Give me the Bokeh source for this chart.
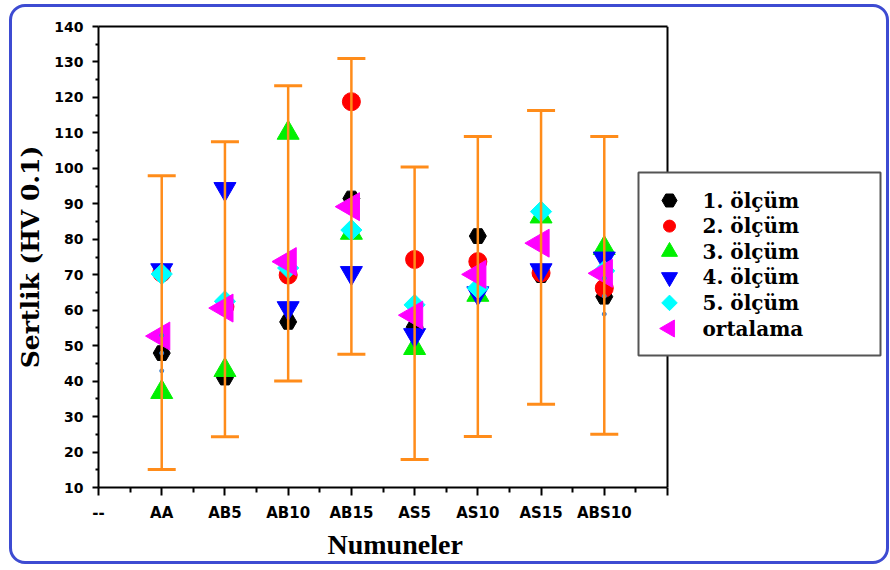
import math
from bokeh.plotting import figure
from bokeh.models import (ColumnDataSource, Range1d, FixedTicker, Whisker, TeeHead,
                          LinearAxis, Title, InlineStyleSheet)
from bokeh.core.properties import value
from bokeh.embed import file_html
from bokeh.resources import INLINE

# ---------------- data ----------------
categories = ["AA", "AB5", "AB10", "AB15", "AS5", "AS10", "AS15", "ABS10"]
olcum1 = [47.9, 41.0, 56.7, 91.5, 55.2, 80.9, 69.9, 63.8]
olcum2 = [70.5, 61.0, 69.9, 118.8, 74.3, 73.7, 70.5, 66.2]
olcum3 = [36.9, 43.1, 110.0, 81.8, 49.3, 64.3, 86.4, 77.5]
olcum4 = [71.3, 94.2, 60.6, 70.5, 53.0, 64.8, 71.3, 74.6]
olcum5 = [70.2, 62.5, 71.9, 82.6, 61.5, 66.2, 87.8, 71.1]
ortalama = [52.7, 60.6, 73.7, 89.2, 58.6, 70.1, 78.9, 70.4]
err_upper = [97.9, 107.5, 123.3, 131.0, 100.4, 109.0, 116.3, 109.0]
err_lower = [15.1, 24.3, 40.0, 47.6, 17.9, 24.4, 33.5, 25.0]

small_cats = ["AA", "ABS10"]
small_upper = [52.9, 69.0]
small_lower = [42.9, 58.9]

series_names = ["1. ölçüm", "2. ölçüm", "3. ölçüm", "4. ölçüm", "5. ölçüm", "ortalama"]
y_ticks = list(range(10, 141, 10))
Y0, Y1 = 10, 140

# ---------------- layout ----------------
W, H = 882, 562
LEFT, TOP, BOTTOM = 98, 26, 75
plot_px = 569                      # width of the boxed plotting area
frame_px = W - LEFT                # frame extends under the legend
frame_h = H - TOP - BOTTOM
xpos = [i + 1 for i in range(len(categories))]
n_slots = len(categories) + 1
x_end = n_slots * frame_px / plot_px


def dx(px):  # canvas pixel -> data x (for legend placement)
    return (px - LEFT) * n_slots / plot_px


def dy(py):  # canvas pixel -> data y (for legend placement)
    return Y0 + (H - BOTTOM - py) * (Y1 - Y0) / frame_h


p = figure(width=W, height=H, output_backend="svg", toolbar_location=None,
           x_range=Range1d(0, x_end), y_range=Range1d(Y0, Y1),
           min_border_left=LEFT, min_border_right=0, min_border_top=TOP,
           min_border_bottom=BOTTOM)
p.background_fill_color = "white"
p.border_fill_color = "white"
p.grid.visible = False
p.outline_line_color = None
p.stylesheets = [InlineStyleSheet(css="""
:host::after {
  content: "";
  position: absolute;
  left: 9px; top: 4px; right: -7px; bottom: -2px;
  border: 3px solid #3d4bd2;
  border-radius: 16px;
  pointer-events: none;
  z-index: 50;
}
""")]

# axes
xa = p.xaxis[0]
xa.bounds = (0, n_slots)
xa.ticker = FixedTicker(ticks=list(range(0, n_slots + 1)),
                        minor_ticks=[i + 0.5 for i in range(0, n_slots)])
overrides = {0: "--"}
for i, c in enumerate(categories):
    overrides[i + 1] = c
overrides[n_slots] = ""
xa.major_label_overrides = overrides

ya = p.yaxis[0]
ya.ticker = FixedTicker(ticks=y_ticks, minor_ticks=[t + 5 for t in y_ticks[:-1]])
ya.axis_label = "Sertlik (HV 0.1)"

for ax in (xa, ya):
    ax.axis_line_color = "black"
    ax.axis_line_width = 2
    ax.major_tick_line_color = "black"
    ax.major_tick_line_width = 2
    ax.minor_tick_line_color = "black"
    ax.minor_tick_line_width = 2
    ax.major_tick_in = 0
    ax.minor_tick_in = 0
    ax.major_label_text_font = "DejaVu Sans"
    ax.major_label_text_font_style = "bold"
    ax.major_label_text_color = "black"

xa.major_label_text_font_size = "15px"
ya.major_label_text_font_size = "14px"
ya.axis_label_text_font = "DejaVu Serif"
ya.axis_label_text_font_style = "bold"
ya.axis_label_text_font_size = "25px"
ya.axis_label_text_color = "black"

xa.major_tick_out = 8
xa.minor_tick_out = 5
xa.major_label_standoff = 8
ya.major_tick_out = 6
ya.minor_tick_out = 3
ya.major_label_standoff = 9
ya.axis_label_standoff = 6

# x axis title, centred under the boxed area
xt = Title(text="Numuneler", align="left", offset=229, standoff=4,
           text_font="Liberation Serif", text_font_style="bold",
           text_font_size="28px", text_color="black")
p.add_layout(xt, "below")

# top edge of the box
top_axis = LinearAxis(bounds=(0, n_slots), ticker=FixedTicker(ticks=[]),
                      axis_line_color="black", axis_line_width=2,
                      major_tick_out=0, major_tick_in=0,
                      minor_tick_out=0, minor_tick_in=0)
p.add_layout(top_axis, "above")

# right edge of the box
p.segment(x0=[n_slots], y0=[Y0], x1=[n_slots], y1=[Y1], line_color="black",
          line_width=2)

# ---------------- markers ----------------
styles = [
    # values, marker, size, colour, angle, legend size
    (olcum1, "hex", 17, "#000000", 0.0, 15),
    (olcum2, "circle", 18, "#ff0000", 0.0, 12),
    (olcum3, "triangle", 22, "#00f000", 0.0, 16),
    (olcum4, "inverted_triangle", 22, "#0000ff", 0.0, 16),
    (olcum5, "square", 15, "#00ffff", math.pi / 4, 11),
    (ortalama, "triangle", 28, "#ff00ff", math.pi / 2, 17),
]
for vals, mk, sz, col, ang, _ in styles:
    src = ColumnDataSource(dict(x=xpos, y=vals))
    p.scatter("x", "y", source=src, marker=mk, size=sz, angle=ang,
              fill_color=col, line_color=col, line_width=1)

# small blue error bars
sx = [categories.index(c) + 1 for c in small_cats]
small_src = ColumnDataSource(dict(x=sx, upper=small_upper, lower=small_lower,
                                  mid=[(a + b) / 2 for a, b in zip(small_upper, small_lower)]))
p.segment(x0="x", y0="lower", x1="x", y1="upper", source=small_src,
          line_color="#3a7fd0", line_width=1.5)
for col in ("upper", "lower", "mid"):
    p.scatter("x", col, source=small_src, marker="circle", size=4,
              fill_color="#3a7fd0", line_color="#3a7fd0")

# orange error bars
orange = "#ff8c1a"
err_src = ColumnDataSource(dict(x=xpos, upper=err_upper, lower=err_lower))
w = Whisker(base="x", upper="upper", lower="lower", source=err_src,
            line_color=orange, line_width=2.5,
            upper_head=TeeHead(size=28, line_color=orange, line_width=3),
            lower_head=TeeHead(size=28, line_color=orange, line_width=3))
w.level = "annotation"
p.add_layout(w)

# ---------------- legend (drawn by hand) ----------------
p.quad(left=[dx(638)], right=[dx(880)], top=[dy(172)], bottom=[dy(355)],
       fill_color="white", line_color="#555555", line_width=2)
row_y = [dy(200 + 25.6 * i) for i in range(len(series_names))]
for (vals, mk, sz, col, ang, lsz), ry in zip(styles, row_y):
    p.scatter(x=[dx(669)], y=[ry], marker=mk, size=lsz, angle=ang,
              fill_color=col, line_color=col)
p.text(x=[dx(702)] * len(series_names), y=row_y, text=series_names,
       text_font=value("DejaVu Serif"), text_font_style="bold",
       text_font_size="20px", text_color="black",
       text_baseline="middle", text_align="left")

open("out.html", "w").write(file_html(p, INLINE))
